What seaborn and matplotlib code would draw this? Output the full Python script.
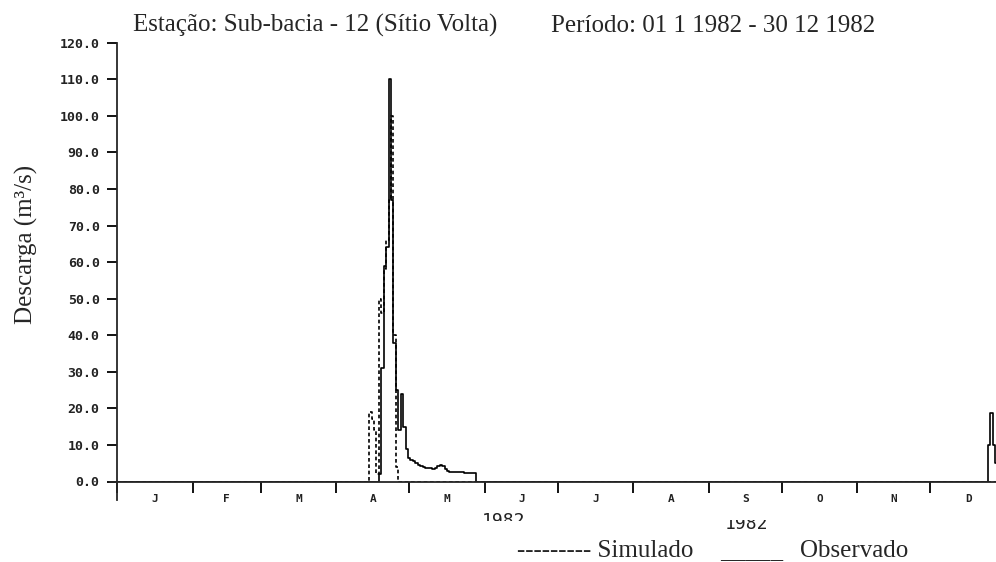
import numpy as np
import pandas as pd
import seaborn as sns
import matplotlib.pyplot as plt
from matplotlib.transforms import Bbox

# daily discharge (m3/s), day index 0 = 1 Jan 1982
obs_flood_start = 107
obs_flood = [0, 2, 31, 59, 64, 110, 77, 38, 25, 14, 24, 15, 9, 6.5, 6, 5.5, 5, 4.5,
             4.2, 4, 3.8, 3.7, 3.6, 3.5, 3.6, 4.2, 4.5, 4.3, 3.5, 3.0, 2.7, 2.7, 2.6,
             2.6, 2.5, 2.5, 2.2, 2.2, 2.2, 2.2, 2.2, 0]
obs_dec_start = 356
obs_dec = [0, 0, 10, 18.7, 10, 5, 3, 2, 1.5]
sim_flood_start = 102
sim_flood = [0, 0, 19, 17, 14, 2, 50, 46, 58, 66, 77, 100, 40, 4, 0]

month_starts = [0, 31, 59, 90, 120, 151, 181, 212, 243, 273, 304, 334, 365]
month_letters = ["J", "F", "M", "A", "M", "J", "J", "A", "S", "O", "N", "D"]
y_ticks = list(range(0, 121, 10))

days = np.arange(365)
obs = np.zeros(365)
obs[obs_flood_start:obs_flood_start + len(obs_flood)] = obs_flood
obs[obs_dec_start:obs_dec_start + len(obs_dec)] = obs_dec
sim = np.zeros(365)
sim[sim_flood_start:sim_flood_start + len(sim_flood)] = sim_flood
df = pd.DataFrame({"dia": days, "Observado": obs, "Simulado": sim})

sns.set_style("ticks")
plt.rcParams['font.family'] = ['Liberation Serif', 'DejaVu Serif']

fig = plt.figure(figsize=(9.96, 5.62), dpi=100)
ax = fig.add_axes([117/996, 80.5/562, (1006-117)/996, (481.5-42.7)/562])

sns.lineplot(data=df, x="dia", y="Simulado", ax=ax, color="black", lw=1.2,
             linestyle=(0, (2.2, 1.6)), drawstyle="steps-mid", errorbar=None)
sns.lineplot(data=df, x="dia", y="Observado", ax=ax, color="black", lw=1.2,
             drawstyle="steps-mid", errorbar=None)

ax.set_xlim(0, 365)
ax.set_ylim(0, 120)
ax.set_yticks(y_ticks)
ax.set_yticklabels([f"{v:.1f}" for v in y_ticks])
ax.set_xticks(month_starts)
ax.set_xticklabels([])
mids = [(a + b) / 2 for a, b in zip(month_starts[:-1], month_starts[1:])]
ax.set_xticks(mids, minor=True)
ax.set_xticklabels(month_letters, minor=True)
ax.set_xlabel("")

for lab in ax.get_yticklabels():
    lab.set_fontfamily("DejaVu Sans Mono")
    lab.set_fontweight("bold")
    lab.set_fontsize(9.5)
    lab.set_color("#222222")
for lab in ax.get_xticklabels(minor=True):
    lab.set_fontfamily("DejaVu Sans Mono")
    lab.set_fontweight("bold")
    lab.set_fontsize(8)
    lab.set_color("#222222")

ax.tick_params(axis="x", which="major", length=8, width=1.3, color="black")
ax.tick_params(axis="x", which="minor", length=0, pad=9)
ax.tick_params(axis="y", which="major", length=7.5, width=1.3, color="black", pad=5)
sns.despine(ax=ax)
ax.spines["left"].set_linewidth(1.3)
ax.spines["bottom"].set_linewidth(1.3)
ax.spines["left"].set_bounds(-5, 120)
ax.spines["bottom"].set_bounds(-3, 365)

ax.set_ylabel("Descarga (m³/s)", fontsize=18)
ax.yaxis.set_label_coords(-0.089, 0.54)

fig.text(133/996, 1 - 32/562, "Estação: Sub-bacia - 12 (Sítio Volta)",
         fontsize=18, va="baseline")
fig.text(551/996, 1 - 32/562, "Período: 01 1 1982 - 30 12 1982",
         fontsize=18, va="baseline")
fig.text(517/996, 1 - 557/562, "--------- Simulado", fontsize=18, va="baseline")
fig.text(720/996, 1 - 557/562, "_____", fontsize=18, va="baseline")
fig.text(800/996, 1 - 557/562, "Observado", fontsize=18, va="baseline")

# year labels, partly cut off as in the original
y1 = fig.text(504/996, 1 - 526/562, "1982", ha="center", va="baseline",
              family="DejaVu Sans Mono", fontsize=13, color="#222222")
y1.set_clip_box(Bbox([[460, 562 - 521], [550, 562 - 505]]))
y1.set_clip_on(True)
y2 = fig.text(747/996, 1 - 529/562, "1982", ha="center", va="baseline",
              family="DejaVu Sans Mono", fontsize=13, color="#222222")
y2.set_clip_box(Bbox([[700, 562 - 535], [800, 562 - 520]]))
y2.set_clip_on(True)

fig.savefig("out.png", dpi=100)
